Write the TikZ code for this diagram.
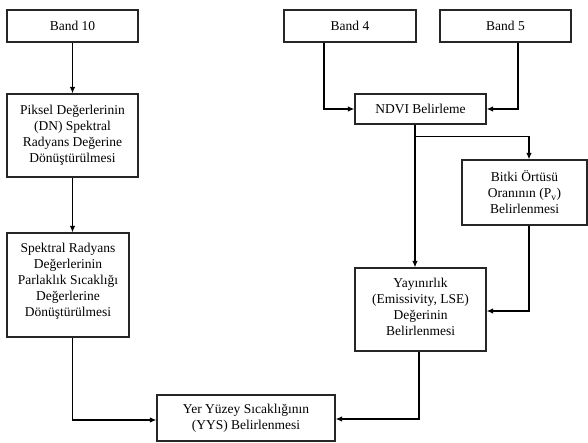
\documentclass[tikz,border=0pt]{standalone}
\usepackage{fontspec}
\setmainfont{Liberation Serif}
\usetikzlibrary{arrows.meta}
\begin{document}
\begin{tikzpicture}[x=1pt,y=-1pt,
  box/.style={draw=black!85, line width=1.2pt, align=center, inner sep=2pt,
    font=\fontsize{13.5}{16}\selectfont},
  arr/.style={line width=1.2pt, -{Latex[length=6.5pt,width=5.5pt]}},
  ln/.style={line width=1.2pt}]
\useasboundingbox (0,0) rectangle (588,442);
\fill[white] (0,0) rectangle (588,442);
% boxes
\node[box, minimum width=131pt, minimum height=32pt] (b10) at (72.5,26) {Band 10};
\node[box, minimum width=131pt, minimum height=83pt] (pik) at (72.5,135.5) {Piksel Değerlerinin\\(DN) Spektral\\Radyans Değerine\\Dönüştürülmesi};
\node[box, minimum width=122pt, minimum height=104pt, text depth=10pt] (spk) at (68,285) {Spektral Radyans\\Değerlerinin\\Parlaklık Sıcaklığı\\Değerlerine\\Dönüştürülmesi};
\node[box, minimum width=132pt, minimum height=32pt] (b4) at (350,26) {Band 4};
\node[box, minimum width=131pt, minimum height=32pt] (b5) at (505.5,26) {Band 5};
\node[box, minimum width=131pt, minimum height=30pt] (ndvi) at (420.5,109) {NDVI Belirleme};
\node[box, minimum width=125pt, minimum height=65pt] (bitki) at (524.5,192.5) {Bitki Örtüsü\\Oranının (P\textsubscript{v})\\Belirlenmesi};
\node[box, minimum width=131pt, minimum height=83pt, text depth=6pt] (yay) at (420.5,309.5) {Yayınırlık\\(Emissivity, LSE)\\Değerinin\\Belirlenmesi};
\node[box, minimum width=178pt, minimum height=46pt] (yys) at (246,418) {Yer Yüzey Sıcaklığının\\(YYS) Belirlenmesi};
% connectors
\draw[arr] (b10.south) -- (b10.south |- pik.north);
\draw[arr] (pik.south) -- (pik.south |- spk.north);
\draw[arr] (spk.south -| pik.south) |- ([yshift=-2pt]yys.west);
\draw[arr] ([xshift=-26pt]b4.south) |- (ndvi.west);
\draw[arr] ([xshift=12.5pt]b5.south) |- (ndvi.east);
\coordinate (br) at ([xshift=-5.5pt,yshift=-12pt]ndvi.south);
\draw[arr] ([xshift=-5.5pt]ndvi.south) -- ([xshift=-5.5pt]ndvi.south |- yay.north);
\draw[arr] (br) -| ([xshift=4.5pt]bitki.north);
\draw[arr] ([xshift=4.5pt]bitki.south) |- ([yshift=-1.5pt]yay.east);
\draw[arr] ([xshift=-1.5pt]yay.south) |- ([yshift=-1pt]yys.east);
\end{tikzpicture}
\end{document}
